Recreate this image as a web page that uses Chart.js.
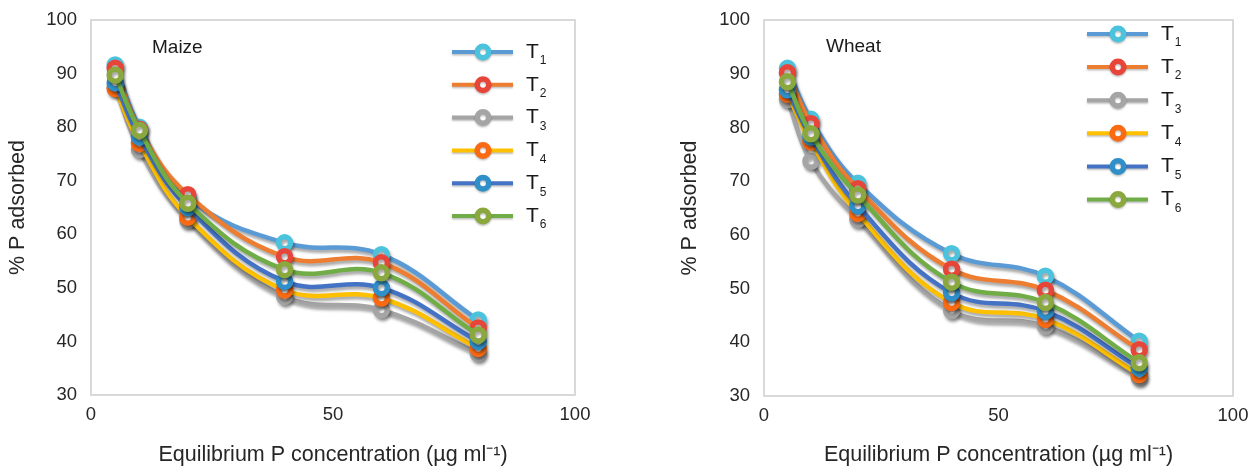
<!DOCTYPE html>
<html>
<head>
<meta charset="utf-8">
<script src="https://cdn.jsdelivr.net/npm/chart.js@4.4.1/dist/chart.umd.min.js"></script>
<style>
  html, body { margin: 0; padding: 0; background: #fff; }
  #wrap { position: relative; width: 1255px; height: 469px; overflow: hidden; }
  canvas { position: absolute; top: 0; }
</style>
</head>
<body>
<div id="wrap">
  <canvas id="maize" width="620" height="469" style="left:0"></canvas>
  <canvas id="wheat" width="635" height="469" style="left:620px"></canvas>
</div>
<script>
// ---- data ----
const concentrations = [5, 10, 20, 40, 60, 80];
const seriesNames = ['1', '2', '3', '4', '5', '6']; // subscripts of T
const maizeT1 = [91.6, 80.0, 66.8, 58.4, 56.2, 44.0];
const maizeT2 = [91.0, 79.6, 67.4, 55.8, 54.7, 42.5];
const maizeT3 = [87.6, 75.8, 62.6, 48.4, 45.9, 37.8];
const maizeT4 = [87.2, 77.0, 63.2, 49.6, 48.1, 38.7];
const maizeT5 = [88.3, 78.2, 65.0, 51.2, 50.0, 40.0];
const maizeT6 = [89.7, 79.4, 65.8, 53.4, 52.8, 41.2];
const wheatT1 = [91.0, 81.5, 69.6, 56.5, 52.3, 40.2];
const wheatT2 = [90.2, 80.7, 68.6, 53.6, 49.7, 38.6];
const wheatT3 = [85.2, 73.7, 62.9, 45.9, 43.0, 33.5];
const wheatT4 = [86.2, 77.3, 64.0, 47.4, 44.3, 34.0];
const wheatT5 = [87.0, 78.2, 65.4, 49.2, 45.8, 35.2];
const wheatT6 = [88.5, 78.8, 67.4, 51.2, 47.4, 36.2];
const yTicks = [30, 40, 50, 60, 70, 80, 90, 100];
const xTicks = [0, 50, 100];
const xTitle = 'Equilibrium P concentration (µg ml⁻¹)';
const yTitle = '% P adsorbed';

// ---- styles ----
const lineColors = ['#5b9bd5', '#ed7d31', '#a5a5a5', '#ffc000', '#4472c4', '#70ad47'];
const markerColors = ['#4cc3dc', '#e8453a', '#a5a5a5', '#fa6a12', '#2f8fc8', '#8aa83e'];
const FONT = '"Liberation Sans", Arial, sans-serif';
const TEXT = '#262626';

function makeDatasets(arrs) {
  return arrs.map((vals, i) => ({
    label: 'T' + seriesNames[i],
    data: concentrations.map((x, j) => ({ x: x, y: vals[j] })),
    borderColor: lineColors[i],
    backgroundColor: lineColors[i],
    borderWidth: 4.5,
    pointRadius: 6,
    pointBorderWidth: 5.5,
    pointBackgroundColor: '#ffffff',
    pointBorderColor: markerColors[i],
    showLine: true,
    tension: 0.4,
    order: arrs.length - i
  }));
}

const decorPlugin = {
  id: 'decor',
  beforeDatasetsDraw(chart) {
    const { ctx, chartArea: a } = chart;
    ctx.save();
    ctx.strokeStyle = '#d9d9d9';
    ctx.lineWidth = 2;
    ctx.strokeRect(a.left, a.top, a.right - a.left, a.bottom - a.top);
    ctx.restore();
  },
  beforeDatasetDraw(chart) {
    const ctx = chart.ctx;
    ctx.save();
    ctx.shadowColor = 'rgba(0,0,0,0.35)';
    ctx.shadowBlur = 3;
    ctx.shadowOffsetX = 1.5;
    ctx.shadowOffsetY = 3;
  },
  afterDatasetDraw(chart) {
    chart.ctx.restore();
  },
  afterDraw(chart, args, opts) {
    const ctx = chart.ctx;
    ctx.save();
    // panel name
    ctx.fillStyle = '#1a1a1a';
    ctx.font = '19px ' + FONT;
    ctx.textBaseline = 'alphabetic';
    ctx.textAlign = 'left';
    ctx.fillText(opts.name, opts.nameX, opts.nameY);
    // legend
    chart.data.datasets.forEach((ds, i) => {
      const y = opts.legY + i * opts.legGap;
      const x0 = opts.legX;
      ctx.save();
      ctx.shadowColor = 'rgba(0,0,0,0.25)';
      ctx.shadowBlur = 2;
      ctx.shadowOffsetY = 1.5;
      ctx.strokeStyle = ds.borderColor;
      ctx.lineWidth = 4;
      ctx.beginPath();
      ctx.moveTo(x0, y);
      ctx.lineTo(x0 + 61, y);
      ctx.stroke();
      ctx.beginPath();
      ctx.arc(x0 + 31, y, 5.75, 0, Math.PI * 2);
      ctx.fillStyle = '#ffffff';
      ctx.fill();
      ctx.lineWidth = 5.5;
      ctx.strokeStyle = ds.pointBorderColor;
      ctx.stroke();
      ctx.restore();
      ctx.fillStyle = '#1a1a1a';
      ctx.font = '21px ' + FONT;
      ctx.textBaseline = 'middle';
      ctx.fillText('T', x0 + 74, y);
      const w = ctx.measureText('T').width;
      ctx.font = '12px ' + FONT;
      ctx.fillText(seriesNames[i], x0 + 74 + w + 1, y + 9);
    });
    ctx.restore();
  }
};

function makeChart(id, arrs, cfg) {
  return new Chart(document.getElementById(id), {
    type: 'scatter',
    data: { datasets: makeDatasets(arrs) },
    plugins: [decorPlugin],
    options: {
      responsive: false,
      animation: false,
      devicePixelRatio: 1,
      layout: { padding: { left: cfg.padLeft, right: cfg.padRight, top: 20, bottom: 0 } },
      plugins: {
        legend: { display: false },
        tooltip: { enabled: false },
        decor: cfg.decor
      },
      scales: {
        x: {
          type: 'linear', min: 0, max: 100,
          afterBuildTicks(s) { s.ticks = xTicks.map(v => ({ value: v })); },
          afterFit(s) { s.height = cfg.xHeight; },
          grid: { display: false },
          border: { display: false },
          ticks: { color: TEXT, font: { family: FONT, size: 18.5 }, padding: 1 },
          title: { display: true, text: xTitle, color: TEXT, font: { family: FONT, size: 21.5 }, padding: { top: 0, bottom: 1 } }
        },
        y: {
          type: 'linear', min: 30, max: 100,
          afterBuildTicks(s) { s.ticks = yTicks.map(v => ({ value: v })); },
          afterFit(s) { s.width = cfg.yWidth; },
          grid: { display: false },
          border: { display: false },
          ticks: { color: TEXT, font: { family: FONT, size: 18.5 }, padding: 6 },
          title: { display: true, text: yTitle, color: TEXT, font: { family: FONT, size: 21.5 }, padding: { top: 5, bottom: 0 } }
        }
      }
    }
  });
}

makeChart('maize', [maizeT1, maizeT2, maizeT3, maizeT4, maizeT5, maizeT6], {
  padLeft: 0, padRight: 45, yWidth: 91, xHeight: 74,
  decor: { name: 'Maize', nameX: 152, nameY: 53, legX: 452, legY: 52, legGap: 32.8 }
});
makeChart('wheat', [wheatT1, wheatT2, wheatT3, wheatT4, wheatT5, wheatT6], {
  padLeft: 52, padRight: 22, yWidth: 92, xHeight: 73,
  decor: { name: 'Wheat', nameX: 206, nameY: 52, legX: 467, legY: 34, legGap: 33.1 }
});
</script>
</body>
</html>
